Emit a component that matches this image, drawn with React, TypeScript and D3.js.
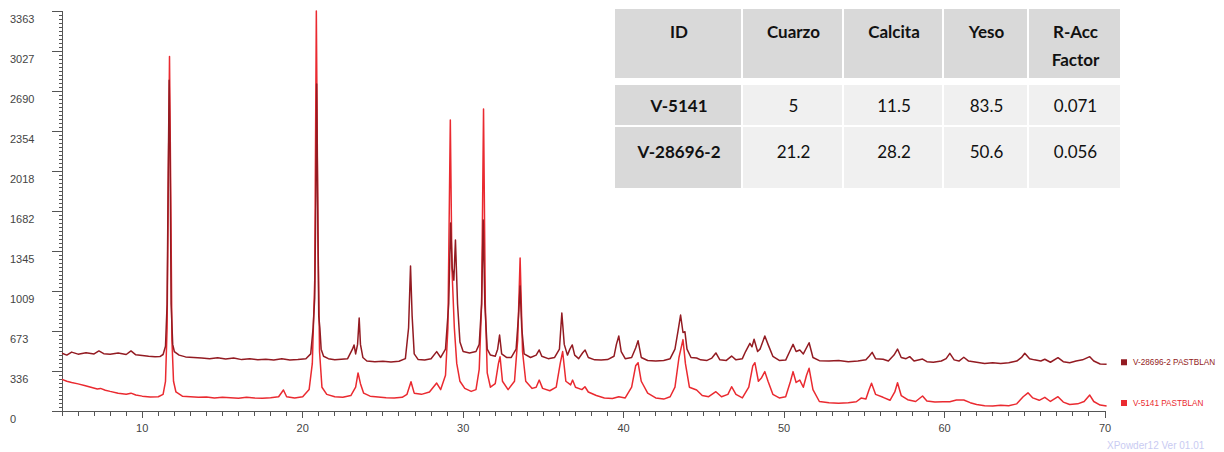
import React from 'react';
import * as d3 from 'd3';

// XRD patterns, 2-theta vs counts
const yMax = 3363;
const yTickLabels = ['0', '336', '673', '1009', '1345', '1682', '2018', '2354', '2690', '3027', '3363'];
const xTickLabels = [10, 20, 30, 40, 50, 60, 70];

const seriesNames = ['V-28696-2 PASTBLAN', 'V-5141 PASTBLAN'];
const seriesColors = ['#931b22', '#ea2a30'];

const v28696: [number, number][] = [
  [5.0, 485], [5.3, 470], [5.6, 495], [6.0, 478], [6.5, 490], [7.0, 480], [7.3, 505], [7.6, 482],
  [8.0, 478], [8.5, 488], [9.0, 475], [9.3, 505], [9.6, 472], [10.0, 466], [10.4, 460], [10.8, 456],
  [11.1, 458], [11.3, 475], [11.45, 545], [11.55, 900], [11.62, 2000], [11.68, 2780], [11.74, 2100],
  [11.8, 900], [11.9, 560], [12.0, 500], [12.3, 470], [12.7, 455], [13.2, 450], [13.7, 445],
  [14.2, 440], [14.7, 448], [15.2, 438], [15.7, 445], [16.2, 432], [16.7, 440], [17.2, 430],
  [17.7, 436], [18.2, 428], [18.7, 440], [19.2, 428], [19.7, 432], [20.2, 440], [20.5, 480],
  [20.65, 700], [20.75, 950], [20.82, 1800], [20.87, 2750], [20.93, 1800], [21.0, 800], [21.07, 700],
  [21.15, 520], [21.3, 460], [21.6, 440], [22.0, 430], [22.4, 435], [22.8, 440], [23.1, 520],
  [23.2, 555], [23.3, 480], [23.42, 560], [23.52, 782], [23.6, 560], [23.75, 450], [24.0, 420],
  [24.5, 415], [25.0, 418], [25.5, 412], [26.0, 418], [26.4, 440], [26.6, 700], [26.72, 1219],
  [26.82, 800], [26.95, 480], [27.2, 432], [27.6, 428], [28.0, 440], [28.35, 499], [28.6, 450],
  [28.9, 520], [29.1, 900], [29.22, 1580], [29.32, 1200], [29.42, 1100], [29.52, 1438], [29.65, 900],
  [29.8, 580], [30.0, 500], [30.4, 488], [30.8, 500], [31.0, 560], [31.15, 900], [31.25, 1606],
  [31.35, 900], [31.5, 520], [31.7, 470], [32.0, 460], [32.15, 520], [32.27, 639], [32.4, 480],
  [32.7, 450], [33.0, 450], [33.3, 520], [33.45, 800], [33.55, 1050], [33.65, 700], [33.8, 480],
  [34.2, 450], [34.55, 470], [34.74, 513], [34.9, 460], [35.3, 440], [35.7, 450], [36.0, 520],
  [36.15, 824], [36.3, 560], [36.5, 470], [36.65, 520], [36.8, 555], [36.95, 470], [37.2, 440],
  [37.45, 490], [37.6, 513], [37.8, 450], [38.2, 430], [38.6, 428], [39.0, 432], [39.4, 460],
  [39.55, 560], [39.7, 630], [39.85, 500], [40.1, 440], [40.5, 450], [40.75, 530], [40.9, 591],
  [41.1, 450], [41.5, 425], [42.0, 420], [42.5, 425], [42.9, 440], [43.2, 520], [43.4, 680],
  [43.55, 807], [43.7, 660], [43.82, 667], [43.95, 520], [44.2, 450], [44.55, 446], [44.8, 430],
  [45.2, 425], [45.5, 445], [45.75, 488], [46.0, 430], [46.4, 425], [46.73, 462], [47.0, 430],
  [47.4, 440], [47.6, 500], [47.87, 569], [48.0, 540], [48.13, 603], [48.35, 500], [48.5, 520],
  [48.8, 630], [49.0, 560], [49.3, 460], [49.7, 425], [50.1, 428], [50.35, 500], [50.56, 560],
  [50.75, 500], [50.98, 513], [51.2, 480], [51.56, 574], [51.8, 450], [52.2, 423], [52.8, 420],
  [53.4, 425], [54.0, 415], [54.6, 420], [55.1, 430], [55.3, 460], [55.49, 493], [55.7, 440],
  [56.17, 435], [56.5, 420], [56.85, 470], [57.07, 521], [57.3, 450], [57.6, 440], [57.83, 457],
  [58.1, 420], [58.63, 437], [58.9, 415], [59.3, 410], [59.8, 420], [60.1, 440], [60.33, 485],
  [60.6, 430], [60.9, 420], [61.2, 452], [61.5, 420], [62.0, 410], [62.5, 400], [63.0, 405],
  [63.5, 400], [64.0, 405], [64.5, 420], [64.8, 450], [65.0, 485], [65.3, 440], [65.6, 430],
  [66.0, 420], [66.25, 435], [66.6, 410], [67.07, 448], [67.4, 415], [67.8, 405], [68.2, 420],
  [68.6, 430], [69.05, 457], [69.3, 420], [69.7, 395], [70.1, 393],
];

const v5141: [number, number][] = [
  [5.0, 266], [5.3, 250], [5.6, 240], [6.0, 228], [6.4, 215], [6.8, 200], [7.2, 185], [7.4, 190],
  [7.7, 175], [8.0, 165], [8.5, 150], [9.0, 140], [9.3, 150], [9.6, 135], [10.0, 125], [10.5, 118],
  [11.0, 120], [11.3, 140], [11.45, 250], [11.55, 700], [11.62, 1800], [11.7, 2980], [11.78, 1800],
  [11.85, 600], [11.95, 250], [12.1, 160], [12.5, 125], [13.0, 120], [13.5, 115], [14.0, 118],
  [14.5, 110], [15.0, 115], [15.5, 112], [16.0, 108], [16.5, 115], [17.0, 110], [17.5, 108],
  [18.0, 112], [18.5, 120], [18.8, 177], [19.0, 120], [19.5, 110], [20.0, 120], [20.4, 180],
  [20.6, 400], [20.75, 1100], [20.85, 3363], [20.95, 1500], [21.05, 500], [21.2, 200], [21.5, 140],
  [22.0, 120], [22.5, 115], [23.0, 130], [23.3, 200], [23.45, 320], [23.6, 230], [23.8, 150],
  [24.2, 125], [24.7, 118], [25.2, 112], [25.7, 110], [26.2, 115], [26.5, 140], [26.75, 246],
  [26.95, 150], [27.4, 140], [27.9, 160], [28.35, 235], [28.6, 180], [28.9, 300], [29.05, 700],
  [29.2, 2447], [29.3, 1200], [29.45, 700], [29.6, 400], [29.8, 250], [30.1, 190], [30.5, 165],
  [30.8, 180], [31.0, 350], [31.15, 900], [31.27, 2539], [31.38, 900], [31.5, 320], [31.7, 200],
  [32.0, 230], [32.2, 400], [32.3, 456], [32.45, 250], [32.8, 180], [33.2, 250], [33.4, 600],
  [33.55, 1286], [33.7, 500], [33.9, 250], [34.3, 190], [34.55, 200], [34.74, 260], [34.95, 190],
  [35.4, 170], [35.8, 200], [36.05, 400], [36.2, 500], [36.4, 250], [36.7, 220], [36.82, 260],
  [37.0, 200], [37.4, 180], [37.59, 204], [37.8, 160], [38.3, 130], [38.8, 110], [39.3, 105],
  [39.7, 120], [40.1, 110], [40.5, 200], [40.75, 380], [40.9, 406], [41.1, 250], [41.5, 150],
  [42.0, 110], [42.5, 100], [42.9, 120], [43.2, 200], [43.45, 450], [43.7, 600], [43.85, 400],
  [44.1, 200], [44.55, 177], [44.9, 130], [45.3, 120], [45.75, 162], [46.1, 120], [46.5, 140],
  [46.73, 204], [47.0, 140], [47.4, 110], [47.8, 200], [48.05, 380], [48.18, 406], [48.4, 250],
  [48.6, 280], [48.8, 331], [49.0, 250], [49.3, 140], [49.7, 110], [50.1, 120], [50.4, 250],
  [50.56, 331], [50.75, 240], [50.98, 260], [51.2, 200], [51.4, 300], [51.56, 359], [51.8, 180],
  [52.2, 80], [52.8, 70], [53.4, 65], [54.0, 70], [54.5, 78], [54.8, 109], [55.1, 100], [55.3, 180],
  [55.45, 233], [55.7, 140], [56.17, 115], [56.6, 90], [56.9, 160], [57.07, 238], [57.3, 130],
  [57.7, 95], [58.2, 80], [58.63, 126], [58.9, 85], [59.4, 75], [59.9, 78], [60.33, 78], [60.74, 92],
  [61.2, 92], [61.6, 70], [62.0, 55], [62.5, 45], [63.0, 42], [63.5, 48], [64.0, 45], [64.5, 60],
  [64.9, 120], [65.2, 153], [65.5, 110], [65.9, 90], [66.25, 115], [66.6, 80], [67.07, 120],
  [67.4, 75], [67.8, 55], [68.3, 60], [68.7, 80], [69.05, 134], [69.3, 80], [69.7, 50], [70.1, 42],
];

const tableHeader = [['ID'], ['Cuarzo'], ['Calcita'], ['Yeso'], ['R-Acc', 'Factor']];
const tableRows = [
  ['V-5141', '5', '11.5', '83.5', '0.071'],
  ['V-28696-2', '21.2', '28.2', '50.6', '0.056'],
];

const W = 1224;
const H = 452;

export default function App() {
  const x = d3.scaleLinear().domain([5, 70]).range([62, 1105]);
  const y = d3.scaleLinear().domain([0, yMax]).range([411, 11]);
  const line = d3.line<[number, number]>().x((d) => x(d[0])).y((d) => y(d[1]));

  const xMinor = d3.range(5, 71);
  const yMinor = d3.range(0, 101).map((i) => (i * yMax) / 100);

  // table geometry
  const colEdges = [615, 743, 844, 944, 1029, 1122];
  const rowTops = [9, 85, 127];
  const rowBottoms = [78, 125, 188];
  const font = 'Lato, "Open Sans", sans-serif';

  return (
    <svg width={W} height={H} style={{ position: 'absolute', left: 0, top: 0, background: '#fff' }}>
      {/* axes */}
      <g stroke="#555" strokeWidth={1} shapeRendering="crispEdges">
        <line x1={62} x2={62} y1={y(yMax)} y2={y(0)} />
        <line x1={62} x2={1106} y1={y(0)} y2={y(0)} />
        {yMinor.map((v, i) => (
          <line key={'ym' + i} x1={i % 10 === 0 ? 52 : 59} x2={62} y1={y(v)} y2={y(v)} />
        ))}
        {xMinor.map((v) => (
          <line key={'xm' + v} x1={x(v)} x2={x(v)} y1={y(0)} y2={y(0) + (v % 10 === 0 ? 7 : 5)} />
        ))}
      </g>
      <g fontFamily='"Liberation Sans", Arial, sans-serif' fontSize={11} fill="#444">
        {yTickLabels.map((t, i) => (
          <text key={t} x={10} y={y((i * yMax) / 10) + 12}>
            {t}
          </text>
        ))}
        {xTickLabels.map((t) => (
          <text key={t} x={x(t)} y={432} textAnchor="middle">
            {t}
          </text>
        ))}
      </g>

      {/* patterns */}
      <path d={line(v5141) || ''} fill="none" stroke={seriesColors[1]} strokeWidth={1.5} strokeLinejoin="round" />
      <path d={line(v28696) || ''} fill="none" stroke={seriesColors[0]} strokeWidth={1.5} strokeLinejoin="round" />

      {/* legend */}
      {seriesNames.map((n, i) => {
        const yy = i === 0 ? y(v28696[v28696.length - 1][1]) - 2 : y(v5141[v5141.length - 1][1]) - 3;
        return (
          <g key={n}>
            <rect x={1121} y={yy - 3} width={6} height={6} fill={seriesColors[i]} />
            <text x={1133} y={yy + 3} fontSize={8.2} fontFamily='"Liberation Sans", Arial, sans-serif' fill={seriesColors[i]}>
              {n}
            </text>
          </g>
        );
      })}
      <text x={1107} y={449} fontSize={10} fontFamily='"Liberation Sans", Arial, sans-serif' fill="#c9cbf2">
        XPowder12 Ver 01.01
      </text>

      {/* table */}
      <g fontFamily={font} fontSize={17} fill="#111">
        {tableHeader.map((h, c) => (
          <g key={'h' + c}>
            <rect x={colEdges[c]} y={rowTops[0]} width={colEdges[c + 1] - colEdges[c] - 2} height={rowBottoms[0] - rowTops[0]} fill="#d9d9d9" />
            {h.map((t, k) => (
              <text key={t} x={(colEdges[c] + colEdges[c + 1]) / 2} y={38 + k * 28} textAnchor="middle" fontWeight="bold">
                {t}
              </text>
            ))}
          </g>
        ))}
        {tableRows.map((row, r) =>
          row.map((t, c) => (
            <g key={r + '-' + c}>
              <rect
                x={colEdges[c]}
                y={rowTops[r + 1]}
                width={colEdges[c + 1] - colEdges[c] - 2}
                height={rowBottoms[r + 1] - rowTops[r + 1]}
                fill={c === 0 ? '#d9d9d9' : '#f0f0f0'}
              />
              <text x={(colEdges[c] + colEdges[c + 1]) / 2} y={r === 0 ? 112 : 158} textAnchor="middle" fontWeight={c === 0 ? 'bold' : 'normal'}>
                {t}
              </text>
            </g>
          ))
        )}
      </g>
    </svg>
  );
}
